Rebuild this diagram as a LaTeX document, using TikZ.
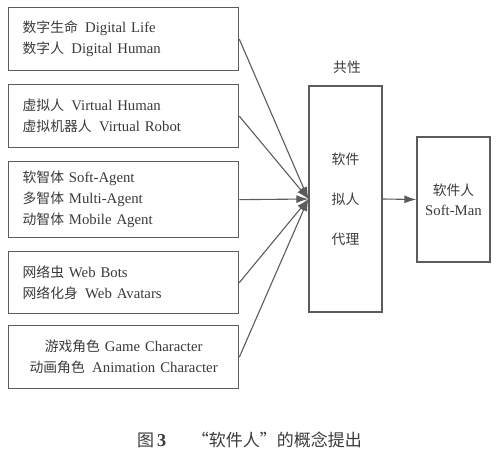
\documentclass[tikz,border=0pt]{standalone}
\usepackage{fontspec}
\setmainfont{Liberation Serif}[Scale=1.07]
\newfontfamily\cjk{Noto Sans CJK SC}
\usetikzlibrary{arrows.meta}
\definecolor{linegray}{HTML}{5C5C5C}
\definecolor{txtgray}{HTML}{3A3A3A}
\newcommand{\zhtxt}[1]{{\cjk #1}}
\begin{document}
\begin{tikzpicture}[x=1pt,y=-1pt,
  srcbox/.style={draw=linegray, line width=1.3pt, minimum width=230pt, text width=202pt,
    align=left, inner xsep=14pt, inner ysep=0pt, anchor=north west, text=txtgray,
    font=\fontsize{13.8}{21}\selectfont},
  bigbox/.style={draw=linegray, line width=1.3pt, minimum width=73pt, align=center,
    inner sep=0pt, text=txtgray, font=\fontsize{13.8}{20}\selectfont},
  conn/.style={draw=linegray, line width=1.1pt, -{Latex[length=12pt,width=8pt]}},
  lbl/.style={text=txtgray, inner sep=0pt}]
\useasboundingbox (0,0) rectangle (499,472);
\node[srcbox, minimum height=63pt] (b1) at (8,7)
  {\zhtxt{数字生命}\enspace Digital Life\\\zhtxt{数字人}\enspace Digital Human};
\node[srcbox, minimum height=63pt] (b2) at (8,84)
  {\zhtxt{虚拟人}\enspace Virtual Human\\\zhtxt{虚拟机器人}\enspace Virtual Robot};
\node[srcbox, minimum height=76pt] (b3) at (8,161)
  {\zhtxt{软智体} Soft-Agent\\\zhtxt{多智体} Multi-Agent\\\zhtxt{动智体} Mobile Agent};
\node[srcbox, minimum height=62pt] (b4) at (8,251)
  {\zhtxt{网络虫} Web Bots\\\zhtxt{网络化身}\enspace Web Avatars};
\node[srcbox, minimum height=63pt, align=center] (b5) at (8,325)
  {\zhtxt{游戏角色} Game Character\\\zhtxt{动画角色}\enspace Animation Character};
\node[bigbox, minimum height=226pt] (mid) at (345.5,199)
  {\zhtxt{软件}\\[20pt]\zhtxt{拟人}\\[20pt]\zhtxt{代理}};
\node[lbl, font=\fontsize{13.8}{16}\selectfont] (common) at (347,67) {\zhtxt{共性}};
\node[bigbox, minimum height=125pt] (soft) at (453.5,199.5)
  {\zhtxt{软件人}\\Soft-Man};
\foreach \b in {b1,b2,b3,b4,b5} \draw[conn] (\b.east) -- (mid.west);
\draw[conn] (mid.east) -- (soft.west);
\node[lbl, anchor=west, font=\fontsize{17}{19}\selectfont] (cap) at (137,440)
  {\zhtxt{图}\,\textbf{3}\hspace{1.4em}\zhtxt{“软件人”的概念提出}};
\end{tikzpicture}
\end{document}
